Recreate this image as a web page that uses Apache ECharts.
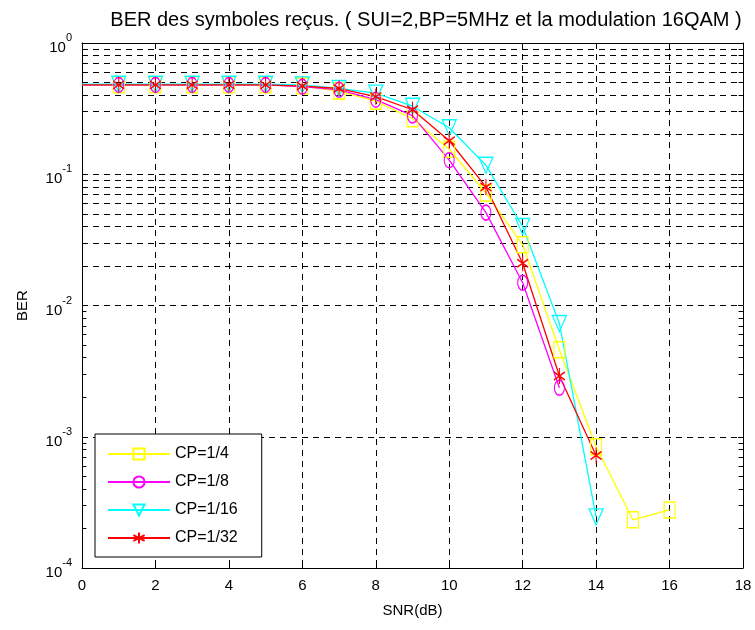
<!DOCTYPE html>
<html>
<head>
<meta charset="utf-8">
<script src="https://cdn.jsdelivr.net/npm/echarts@6/dist/echarts.min.js"></script>
<style>html,body{margin:0;padding:0;background:#fff}#c{width:755px;height:630px}</style>
</head>
<body>
<div id="c"></div>
<script>
var snr = [0,1,2,3,4,5,6,7,8,9,10,11,12,13,14,15,16];
var cp4  = [0.48,0.48,0.48,0.48,0.48,0.48,0.47,0.43,0.36,0.265,0.155,0.072,0.029,0.0046,0.00084,0.000233,0.000277];
var cp8  = [0.48,0.48,0.48,0.48,0.48,0.48,0.465,0.44,0.37,0.28,0.128,0.051,0.0149,0.00236];
var cp16 = [0.485,0.485,0.485,0.485,0.485,0.485,0.48,0.45,0.415,0.33,0.226,0.117,0.040,0.0073,0.000245];
var cp32 = [0.48,0.48,0.48,0.48,0.48,0.48,0.47,0.45,0.39,0.31,0.18,0.080,0.021,0.0029,0.00072];
var names = ['CP=1/4','CP=1/8','CP=1/16','CP=1/32'];
var xTicks = [0,2,4,6,8,10,12,14,16,18];
var minorVals = [];
for (var e = -4; e < 0; e++) for (var m = 2; m <= 9; m++) minorVals.push(m * Math.pow(10, e));

var FONT = 'Liberation Sans';
var dash = [6,5];
function toData(arr){
  return arr.map(function(v,i){ return i===0 ? {value:[snr[i],v], symbol:'none'} : [snr[i],v]; });
}
var star = 'path://M5,0L5,10M0.7,2.5L9.3,7.5M0.7,7.5L9.3,2.5';

var gridLines = minorVals.map(function(v){ return {yAxis:v}; });
var tickLines = [];
minorVals.forEach(function(v){
  tickLines.push([{coord:[0,v]},{coord:[0.12,v]}]);
  tickLines.push([{coord:[17.88,v]},{coord:[18,v]}]);
});

function mk(name, arr, color, symbol, size, rotate){
  return {
    name:name, type:'line', data:toData(arr), symbol:symbol, symbolSize:size, symbolRotate:rotate||0,
    lineStyle:{color:color, width:1.3},
    itemStyle:{color:'rgba(0,0,0,0)', borderColor:color, borderWidth:1.3},
    emphasis:{disabled:true}, animation:false, z:5
  };
}
var series = [
  mk(names[0], cp4, '#ffff00', 'rect', [11,16]),
  mk(names[1], cp8, '#ff00ff', 'circle', [10,15]),
  mk(names[2], cp16, '#00ffff', 'triangle', [14,16], 180),
  mk(names[3], cp32, '#ff0000', star, [11,16])
];
series.push({
  type:'line', data:[], silent:true, animation:false,
  markLine:{silent:true, symbol:'none', label:{show:false}, animation:false,
    lineStyle:{color:'#000', type:dash, width:1},
    data: gridLines}
});
series.push({
  type:'line', data:[], silent:true, animation:false,
  markLine:{silent:true, symbol:'none', label:{show:false}, animation:false,
    lineStyle:{color:'#000', type:'solid', width:1},
    data: tickLines}
});

var chart = echarts.init(document.getElementById('c'), null, {renderer:'canvas'});
chart.setOption({
  backgroundColor:'#fff',
  animation:false,
  textStyle:{fontFamily:FONT, color:'#000'},
  title:{
    text:'BER des symboles reçus. ( SUI=2,BP=5MHz et la modulation 16QAM )',
    left:421, textAlign:'center', top:5,
    textStyle:{fontFamily:FONT, fontSize:20, fontWeight:'normal', color:'#000'}
  },
  legend:{
    data:names, orient:'vertical', left:95, top:434,
    backgroundColor:'#fff', borderColor:'#000', borderWidth:1,
    padding:[12,24,11,12], itemWidth:62, itemHeight:14, itemGap:12,
    textStyle:{fontFamily:FONT, fontSize:16, color:'#000'}
  },
  grid:{left:82, right:12, top:43, bottom:62},
  xAxis:[{
    type:'value', min:0, max:18, interval:2, position:'bottom',
    name:'SNR(dB)', nameLocation:'middle', nameGap:35,
    nameTextStyle:{fontFamily:FONT, fontSize:15, color:'#000'},
    axisLine:{show:true, onZero:false, lineStyle:{color:'#000', width:1}},
    axisTick:{show:true, inside:true, length:5, lineStyle:{color:'#000'}},
    axisLabel:{fontFamily:FONT, fontSize:15, color:'#000', margin:10,
      formatter:function(v){ return xTicks.indexOf(v)>=0 ? String(v) : ''; }},
    splitLine:{show:true, lineStyle:{color:'#000', type:dash, width:1}}
  },{
    type:'value', min:0, max:18, interval:2, position:'top',
    axisLine:{show:true, onZero:false, lineStyle:{color:'#000', width:1}},
    axisTick:{show:true, inside:true, length:5, lineStyle:{color:'#000'}},
    axisLabel:{show:false}, splitLine:{show:false}
  }],
  yAxis:[{
    type:'log', logBase:10, min:1e-4, max:1, position:'left',
    name:'BER', nameLocation:'middle', nameGap:52, nameRotate:90,
    nameTextStyle:{fontFamily:FONT, fontSize:15, color:'#000'},
    axisLine:{show:true, onZero:false, lineStyle:{color:'#000', width:1}},
    axisTick:{show:true, inside:true, length:5, lineStyle:{color:'#000'}},
    axisLabel:{margin:10, color:'#000',
      formatter:function(v){ var e=Math.round(Math.log(v)/Math.LN10); return '{b|10}{s|'+e+'}'; },
      rich:{
        b:{fontFamily:FONT, fontSize:15, color:'#000', padding:[10,0,0,0]},
        s:{fontFamily:FONT, fontSize:11, color:'#000', padding:[0,0,10,0]}
      }},
    splitLine:{show:true, lineStyle:{color:'#000', type:dash, width:1}}
  },{
    type:'log', logBase:10, min:1e-4, max:1, position:'right',
    axisLine:{show:true, onZero:false, lineStyle:{color:'#000', width:1}},
    axisTick:{show:true, inside:true, length:5, lineStyle:{color:'#000'}},
    axisLabel:{show:false}, splitLine:{show:false}
  }],
  series:series
});
</script>
</body>
</html>
